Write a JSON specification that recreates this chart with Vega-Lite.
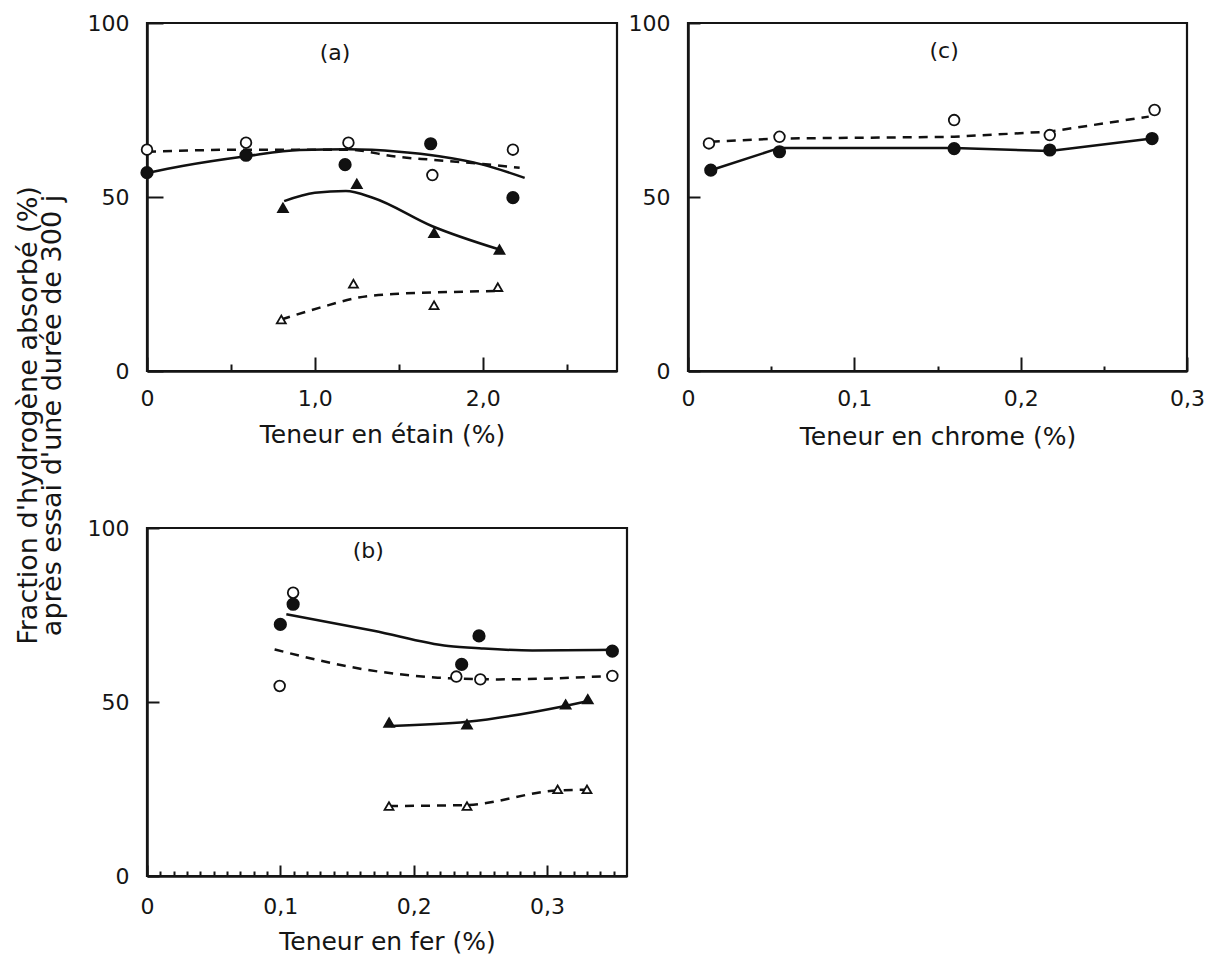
{
  "$schema": "https://vega.github.io/schema/vega-lite/v6.json",
  "background": "white",
  "padding": {"left": 12, "top": 10, "right": 5, "bottom": 5},
  "config": {
    "font": "DejaVu Sans",
    "view": {"stroke": "#151515", "strokeWidth": 2.2},
    "axis": {"grid": false, "domainColor": "#151515", "domainWidth": 2.5, "tickColor": "#151515", "tickWidth": 2, "labelFont": "DejaVu Sans", "labelFontSize": 22, "labelColor": "#151515", "titleFont": "DejaVu Sans", "titleFontSize": 25, "titleFontWeight": "normal", "titleColor": "#151515", "labelFlush": false, "labelOverlap": false}
  },
  "datasets": {
    "pts": [
      {"panel": "a", "series": "fc", "x": 0, "y": 57},
      {"panel": "a", "series": "fc", "x": 0.59, "y": 62},
      {"panel": "a", "series": "fc", "x": 1.18, "y": 59.3},
      {"panel": "a", "series": "fc", "x": 1.69, "y": 65.3},
      {"panel": "a", "series": "fc", "x": 2.18, "y": 49.8},
      {"panel": "a", "series": "oc", "x": 0, "y": 63.6},
      {"panel": "a", "series": "oc", "x": 0.59, "y": 65.6},
      {"panel": "a", "series": "oc", "x": 1.2, "y": 65.6},
      {"panel": "a", "series": "oc", "x": 1.7, "y": 56.3},
      {"panel": "a", "series": "oc", "x": 2.18, "y": 63.6},
      {"panel": "a", "series": "ft", "x": 0.81, "y": 46.9},
      {"panel": "a", "series": "ft", "x": 1.25, "y": 53.8},
      {"panel": "a", "series": "ft", "x": 1.71, "y": 39.7},
      {"panel": "a", "series": "ft", "x": 2.1, "y": 34.9},
      {"panel": "a", "series": "ot", "x": 0.8, "y": 14.8},
      {"panel": "a", "series": "ot", "x": 1.23, "y": 25.1},
      {"panel": "a", "series": "ot", "x": 1.71, "y": 18.9},
      {"panel": "a", "series": "ot", "x": 2.09, "y": 24.1},
      {"panel": "c", "series": "fc", "x": 0.0137, "y": 57.7},
      {"panel": "c", "series": "fc", "x": 0.055, "y": 63},
      {"panel": "c", "series": "fc", "x": 0.16, "y": 63.9},
      {"panel": "c", "series": "fc", "x": 0.2175, "y": 63.5},
      {"panel": "c", "series": "fc", "x": 0.279, "y": 66.8},
      {"panel": "c", "series": "oc", "x": 0.0126, "y": 65.4},
      {"panel": "c", "series": "oc", "x": 0.055, "y": 67.3},
      {"panel": "c", "series": "oc", "x": 0.16, "y": 72.1},
      {"panel": "c", "series": "oc", "x": 0.2175, "y": 67.8},
      {"panel": "c", "series": "oc", "x": 0.2805, "y": 75},
      {"panel": "b", "series": "fc", "x": 0.1, "y": 72.3},
      {"panel": "b", "series": "fc", "x": 0.1096, "y": 78.1},
      {"panel": "b", "series": "fc", "x": 0.249, "y": 69},
      {"panel": "b", "series": "fc", "x": 0.236, "y": 60.8},
      {"panel": "b", "series": "fc", "x": 0.349, "y": 64.6},
      {"panel": "b", "series": "oc", "x": 0.0995, "y": 54.6},
      {"panel": "b", "series": "oc", "x": 0.1096, "y": 81.4},
      {"panel": "b", "series": "oc", "x": 0.25, "y": 56.5},
      {"panel": "b", "series": "oc", "x": 0.232, "y": 57.3},
      {"panel": "b", "series": "oc", "x": 0.349, "y": 57.5},
      {"panel": "b", "series": "ft", "x": 0.1816, "y": 44.1},
      {"panel": "b", "series": "ft", "x": 0.24, "y": 43.6},
      {"panel": "b", "series": "ft", "x": 0.314, "y": 49.3},
      {"panel": "b", "series": "ft", "x": 0.3306, "y": 50.8},
      {"panel": "b", "series": "ot", "x": 0.1815, "y": 20.1},
      {"panel": "b", "series": "ot", "x": 0.24, "y": 20.1},
      {"panel": "b", "series": "ot", "x": 0.308, "y": 24.9},
      {"panel": "b", "series": "ot", "x": 0.33, "y": 24.9}
    ],
    "fits": [
      {"panel": "a", "series": "fc", "x": 0, "y": 56.9},
      {"panel": "a", "series": "fc", "x": 0.21, "y": 58.9},
      {"panel": "a", "series": "fc", "x": 0.59, "y": 61.7},
      {"panel": "a", "series": "fc", "x": 0.91, "y": 63.5},
      {"panel": "a", "series": "fc", "x": 1.2, "y": 63.7},
      {"panel": "a", "series": "fc", "x": 1.5, "y": 63},
      {"panel": "a", "series": "fc", "x": 1.74, "y": 61.7},
      {"panel": "a", "series": "fc", "x": 2.0, "y": 59.3},
      {"panel": "a", "series": "fc", "x": 2.25, "y": 55.5},
      {"panel": "a", "series": "oc", "x": 0, "y": 63},
      {"panel": "a", "series": "oc", "x": 0.59, "y": 63.6},
      {"panel": "a", "series": "oc", "x": 1.19, "y": 63.6},
      {"panel": "a", "series": "oc", "x": 1.5, "y": 61.5},
      {"panel": "a", "series": "oc", "x": 1.7, "y": 60.7},
      {"panel": "a", "series": "oc", "x": 2.0, "y": 59.5},
      {"panel": "a", "series": "oc", "x": 2.22, "y": 58.4},
      {"panel": "a", "series": "ft", "x": 0.817, "y": 48.8},
      {"panel": "a", "series": "ft", "x": 1.0, "y": 51.2},
      {"panel": "a", "series": "ft", "x": 1.185, "y": 51.7},
      {"panel": "a", "series": "ft", "x": 1.345, "y": 49.8},
      {"panel": "a", "series": "ft", "x": 1.7, "y": 41.6},
      {"panel": "a", "series": "ft", "x": 2.1, "y": 34.9},
      {"panel": "a", "series": "ot", "x": 0.8, "y": 14.8},
      {"panel": "a", "series": "ot", "x": 1.03, "y": 18.2},
      {"panel": "a", "series": "ot", "x": 1.26, "y": 21.1},
      {"panel": "a", "series": "ot", "x": 1.5, "y": 22.2},
      {"panel": "a", "series": "ot", "x": 1.9, "y": 22.8},
      {"panel": "a", "series": "ot", "x": 2.1, "y": 23},
      {"panel": "c", "series": "fc", "x": 0.0137, "y": 57.7},
      {"panel": "c", "series": "fc", "x": 0.055, "y": 64.1},
      {"panel": "c", "series": "fc", "x": 0.16, "y": 64.1},
      {"panel": "c", "series": "fc", "x": 0.2175, "y": 63.2},
      {"panel": "c", "series": "fc", "x": 0.279, "y": 66.8},
      {"panel": "c", "series": "oc", "x": 0.0137, "y": 65.9},
      {"panel": "c", "series": "oc", "x": 0.055, "y": 66.8},
      {"panel": "c", "series": "oc", "x": 0.16, "y": 67.3},
      {"panel": "c", "series": "oc", "x": 0.2175, "y": 68.8},
      {"panel": "c", "series": "oc", "x": 0.277, "y": 73.1},
      {"panel": "b", "series": "fc", "x": 0.1045, "y": 75.2},
      {"panel": "b", "series": "fc", "x": 0.17, "y": 70.5},
      {"panel": "b", "series": "fc", "x": 0.226, "y": 66.1},
      {"panel": "b", "series": "fc", "x": 0.251, "y": 65.4},
      {"panel": "b", "series": "fc", "x": 0.289, "y": 64.8},
      {"panel": "b", "series": "fc", "x": 0.349, "y": 65},
      {"panel": "b", "series": "oc", "x": 0.0957, "y": 65.1},
      {"panel": "b", "series": "oc", "x": 0.1626, "y": 59.4},
      {"panel": "b", "series": "oc", "x": 0.218, "y": 57},
      {"panel": "b", "series": "oc", "x": 0.2636, "y": 56.5},
      {"panel": "b", "series": "oc", "x": 0.349, "y": 57.5},
      {"panel": "b", "series": "ft", "x": 0.183, "y": 43.1},
      {"panel": "b", "series": "ft", "x": 0.24, "y": 44.3},
      {"panel": "b", "series": "ft", "x": 0.3126, "y": 48.8},
      {"panel": "b", "series": "ft", "x": 0.33, "y": 50.2},
      {"panel": "b", "series": "ot", "x": 0.1815, "y": 20.1},
      {"panel": "b", "series": "ot", "x": 0.24, "y": 20.4},
      {"panel": "b", "series": "ot", "x": 0.308, "y": 24.6},
      {"panel": "b", "series": "ot", "x": 0.33, "y": 24.8}
    ],
    "tags": [
      {"panel": "a", "x": 1.12, "y": 91.4, "text": "(a)"},
      {"panel": "c", "x": 0.154, "y": 92, "text": "(c)"},
      {"panel": "b", "x": 0.166, "y": 93.3, "text": "(b)"}
    ]
  },
  "columns": 2,
  "spacing": {"row": 157, "column": 61},
  "bounds": "flush",
  "concat": [
    {
      "width": 470,
      "height": 348,
      "encoding": {
        "x": {"field": "x", "type": "quantitative", "scale": {"domain": [0, 2.8], "nice": false, "zero": false},
          "axis": {"title": "Teneur en étain (%)", "values": [0, 0.5, 1, 1.5, 2, 2.5],
            "labelExpr": "datum.value == 0 ? '0' : (abs(datum.value - round(datum.value)) < 0.001 ? replace(format(datum.value, '.1f'), '.', ',') : '')",
            "tickSize": {"condition": {"test": "abs(datum.value - round(datum.value)) < 0.001", "value": -14}, "value": -7},
            "labelPadding": 31, "titlePadding": 6}},
        "y": {"field": "y", "type": "quantitative", "scale": {"domain": [0, 100], "nice": false},
          "axis": {"title": null, "values": [0, 50, 100], "tickSize": -16, "labelPadding": 34}}
      },
      "layer": [
        {"data": {"name": "fits"}, "transform": [{"filter": "datum.panel == 'a' && (datum.series == 'fc' || datum.series == 'ft')"}],
          "mark": {"type": "line", "interpolate": "monotone", "color": "#111", "strokeWidth": 2.5},
          "encoding": {"detail": {"field": "series"}}},
        {"data": {"name": "fits"}, "transform": [{"filter": "datum.panel == 'a' && (datum.series == 'oc' || datum.series == 'ot')"}],
          "mark": {"type": "line", "interpolate": "monotone", "color": "#111", "strokeWidth": 2.5, "strokeDash": [9, 7]},
          "encoding": {"detail": {"field": "series"}}},
        {"data": {"name": "pts"}, "transform": [{"filter": "datum.panel == 'a'"}],
          "mark": {"type": "point", "filled": true, "stroke": "#111", "strokeWidth": 1.8, "opacity": 1},
          "encoding": {
            "shape": {"field": "series", "scale": {"domain": ["fc", "oc", "ft", "ot"], "range": ["circle", "circle", "triangle-up", "triangle-up"]}, "legend": null},
            "fill": {"field": "series", "scale": {"domain": ["fc", "oc", "ft", "ot"], "range": ["#111", "white", "#111", "white"]}, "legend": null},
            "size": {"field": "series", "scale": {"domain": ["fc", "oc", "ft", "ot"], "range": [130, 80, 170, 110]}, "legend": null}
          }},
        {"data": {"name": "tags"}, "transform": [{"filter": "datum.panel == 'a'"}],
          "mark": {"type": "text", "fontSize": 22, "font": "DejaVu Sans", "color": "#151515"},
          "encoding": {"text": {"field": "text"}}}
      ]
    },
    {
      "width": 499,
      "height": 348,
      "encoding": {
        "x": {"field": "x", "type": "quantitative", "scale": {"domain": [0, 0.3], "nice": false, "zero": false},
          "axis": {"title": "Teneur en chrome (%)", "values": [0, 0.05, 0.1, 0.15, 0.2, 0.25, 0.3],
            "labelExpr": "datum.value == 0 ? '0' : (abs(datum.value * 10 - round(datum.value * 10)) < 0.001 ? replace(format(datum.value, '.1f'), '.', ',') : '')",
            "tickSize": {"condition": {"test": "abs(datum.value * 10 - round(datum.value * 10)) < 0.001", "value": -14}, "value": -5},
            "labelPadding": 31, "titlePadding": 6}},
        "y": {"field": "y", "type": "quantitative", "scale": {"domain": [0, 100], "nice": false},
          "axis": {"title": null, "values": [0, 50, 100], "tickSize": -12, "labelPadding": 30}}
      },
      "layer": [
        {"data": {"name": "fits"}, "transform": [{"filter": "datum.panel == 'c' && (datum.series == 'fc' || datum.series == 'ft')"}],
          "mark": {"type": "line", "interpolate": "linear", "color": "#111", "strokeWidth": 2.5},
          "encoding": {"detail": {"field": "series"}}},
        {"data": {"name": "fits"}, "transform": [{"filter": "datum.panel == 'c' && (datum.series == 'oc' || datum.series == 'ot')"}],
          "mark": {"type": "line", "interpolate": "linear", "color": "#111", "strokeWidth": 2.5, "strokeDash": [9, 7]},
          "encoding": {"detail": {"field": "series"}}},
        {"data": {"name": "pts"}, "transform": [{"filter": "datum.panel == 'c'"}],
          "mark": {"type": "point", "filled": true, "stroke": "#111", "strokeWidth": 1.8, "opacity": 1},
          "encoding": {
            "shape": {"field": "series", "scale": {"domain": ["fc", "oc", "ft", "ot"], "range": ["circle", "circle", "triangle-up", "triangle-up"]}, "legend": null},
            "fill": {"field": "series", "scale": {"domain": ["fc", "oc", "ft", "ot"], "range": ["#111", "white", "#111", "white"]}, "legend": null},
            "size": {"field": "series", "scale": {"domain": ["fc", "oc", "ft", "ot"], "range": [130, 80, 170, 110]}, "legend": null}
          }},
        {"data": {"name": "tags"}, "transform": [{"filter": "datum.panel == 'c'"}],
          "mark": {"type": "text", "fontSize": 22, "font": "DejaVu Sans", "color": "#151515"},
          "encoding": {"text": {"field": "text"}}}
      ]
    },
    {
      "width": 480,
      "height": 348,
      "encoding": {
        "x": {"field": "x", "type": "quantitative", "scale": {"domain": [0, 0.36], "nice": false, "zero": false},
          "axis": {"title": "Teneur en fer (%)", "values": [0, 0.01, 0.02, 0.03, 0.04, 0.05, 0.06, 0.07, 0.08, 0.09, 0.1, 0.11, 0.12, 0.13, 0.14, 0.15, 0.16, 0.17, 0.18, 0.19, 0.2, 0.21, 0.22, 0.23, 0.24, 0.25, 0.26, 0.27, 0.28, 0.29, 0.3, 0.31, 0.32, 0.33, 0.34, 0.35],
            "labelExpr": "datum.value == 0 ? '0' : (abs(datum.value * 10 - round(datum.value * 10)) < 0.001 ? replace(format(datum.value, '.1f'), '.', ',') : '')",
            "tickSize": {"condition": {"test": "abs(datum.value * 10 - round(datum.value * 10)) < 0.001", "value": -11}, "value": -5},
            "labelPadding": 31, "titlePadding": 6}},
        "y": {"field": "y", "type": "quantitative", "scale": {"domain": [0, 100], "nice": false},
          "axis": {"title": ["Fraction d'hydrogène absorbé (%)", "après essai d'une durée de 300 j"], "titleFontSize": 27, "titleLineHeight": 24, "titleX": -105, "titleY": -113, "titleAngle": 270, "titleAlign": "center", "titleBaseline": "bottom",
            "values": [0, 50, 100], "tickSize": -12, "labelPadding": 30}}
      },
      "layer": [
        {"data": {"name": "fits"}, "transform": [{"filter": "datum.panel == 'b' && (datum.series == 'fc' || datum.series == 'ft')"}],
          "mark": {"type": "line", "interpolate": "monotone", "color": "#111", "strokeWidth": 2.5},
          "encoding": {"detail": {"field": "series"}}},
        {"data": {"name": "fits"}, "transform": [{"filter": "datum.panel == 'b' && (datum.series == 'oc' || datum.series == 'ot')"}],
          "mark": {"type": "line", "interpolate": "monotone", "color": "#111", "strokeWidth": 2.5, "strokeDash": [9, 7]},
          "encoding": {"detail": {"field": "series"}}},
        {"data": {"name": "pts"}, "transform": [{"filter": "datum.panel == 'b'"}],
          "mark": {"type": "point", "filled": true, "stroke": "#111", "strokeWidth": 1.8, "opacity": 1},
          "encoding": {
            "shape": {"field": "series", "scale": {"domain": ["fc", "oc", "ft", "ot"], "range": ["circle", "circle", "triangle-up", "triangle-up"]}, "legend": null},
            "fill": {"field": "series", "scale": {"domain": ["fc", "oc", "ft", "ot"], "range": ["#111", "white", "#111", "white"]}, "legend": null},
            "size": {"field": "series", "scale": {"domain": ["fc", "oc", "ft", "ot"], "range": [130, 80, 170, 110]}, "legend": null}
          }},
        {"data": {"name": "tags"}, "transform": [{"filter": "datum.panel == 'b'"}],
          "mark": {"type": "text", "fontSize": 22, "font": "DejaVu Sans", "color": "#151515"},
          "encoding": {"text": {"field": "text"}}}
      ]
    }
  ]
}
